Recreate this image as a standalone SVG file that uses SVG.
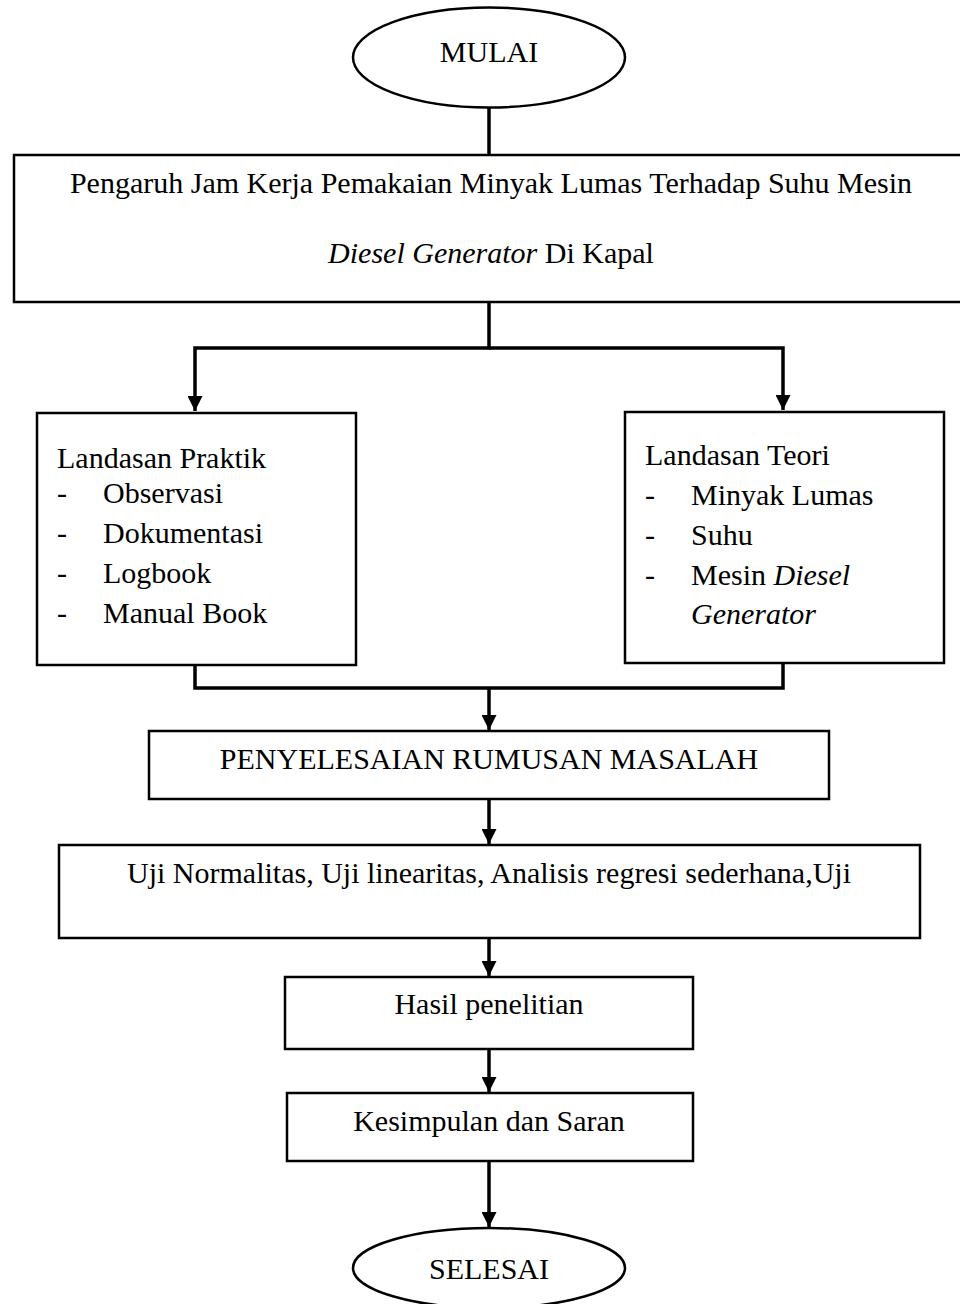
<svg xmlns="http://www.w3.org/2000/svg" width="960" height="1304" viewBox="0 0 960 1304">
<style>
text{font-family:"Liberation Serif","Times New Roman",serif;font-size:30px;fill:#000}
.c{text-anchor:middle}
.i{font-style:italic}
.box{fill:#fff;stroke:#000;stroke-width:2.5}
.ln{fill:none;stroke:#000;stroke-width:3.5}
</style>
<defs>
<marker id="ah" markerWidth="15" markerHeight="15" viewBox="0 0 15 15" refX="15" refY="7.5" orient="auto" markerUnits="userSpaceOnUse">
<path d="M0,0 L15,7.5 L0,15 Z" fill="#000"/>
</marker>
</defs>
<rect width="960" height="1304" fill="#fff"/>
<g id="connectors">
<line class="ln" x1="489" y1="107" x2="489" y2="155"/>
<polyline class="ln" points="489,302 489,348 195,348 195,411" marker-end="url(#ah)"/>
<polyline class="ln" points="489,348 783,348 783,410" marker-end="url(#ah)"/>
<polyline class="ln" points="195,665 195,688 783,688 783,663"/>
<line class="ln" x1="489" y1="688" x2="489" y2="730" marker-end="url(#ah)"/>
<line class="ln" x1="489" y1="799" x2="489" y2="844" marker-end="url(#ah)"/>
<line class="ln" x1="489" y1="938" x2="489" y2="976" marker-end="url(#ah)"/>
<line class="ln" x1="489" y1="1049" x2="489" y2="1092" marker-end="url(#ah)"/>
<line class="ln" x1="489" y1="1161" x2="489" y2="1227" marker-end="url(#ah)"/>
</g>
<g id="mulai">
<ellipse class="box" cx="489" cy="57.5" rx="136" ry="50"/>
<text class="c" x="489" y="62">MULAI</text>
</g>
<g id="judul">
<rect class="box" x="14" y="155" width="960" height="147"/>
<text class="c" x="491" y="193">Pengaruh Jam Kerja Pemakaian Minyak Lumas Terhadap Suhu Mesin</text>
<text class="c" x="491" y="263"><tspan class="i">Diesel Generator</tspan> Di Kapal</text>
</g>
<g id="praktik">
<rect class="box" x="37" y="413" width="319" height="252"/>
<text x="57" y="468">Landasan Praktik</text>
<text x="57" y="503">-</text><text x="103" y="503">Observasi</text>
<text x="57" y="543">-</text><text x="103" y="543">Dokumentasi</text>
<text x="57" y="583">-</text><text x="103" y="583">Logbook</text>
<text x="57" y="623">-</text><text x="103" y="623">Manual Book</text>
</g>
<g id="teori">
<rect class="box" x="625" y="412" width="319" height="251"/>
<text x="645" y="465">Landasan Teori</text>
<text x="645" y="505">-</text><text x="691" y="505">Minyak Lumas</text>
<text x="645" y="545">-</text><text x="691" y="545">Suhu</text>
<text x="645" y="585">-</text><text x="691" y="585">Mesin <tspan class="i">Diesel</tspan></text>
<text x="691" y="624" class="i">Generator</text>
</g>
<g id="penyelesaian">
<rect class="box" x="149" y="731" width="680" height="68"/>
<text class="c" x="489" y="769">PENYELESAIAN RUMUSAN MASALAH</text>
</g>
<g id="uji">
<rect class="box" x="59" y="845" width="861" height="93"/>
<text class="c" x="489" y="883">Uji Normalitas, Uji linearitas, Analisis regresi sederhana,Uji</text>
</g>
<g id="hasil">
<rect class="box" x="285" y="977" width="408" height="72"/>
<text class="c" x="489" y="1014">Hasil penelitian</text>
</g>
<g id="kesimpulan">
<rect class="box" x="287" y="1093" width="406" height="68"/>
<text class="c" x="489" y="1131">Kesimpulan dan Saran</text>
</g>
<g id="selesai">
<ellipse class="box" cx="489" cy="1268" rx="136" ry="40"/>
<text class="c" x="489" y="1279">SELESAI</text>
</g>
</svg>
